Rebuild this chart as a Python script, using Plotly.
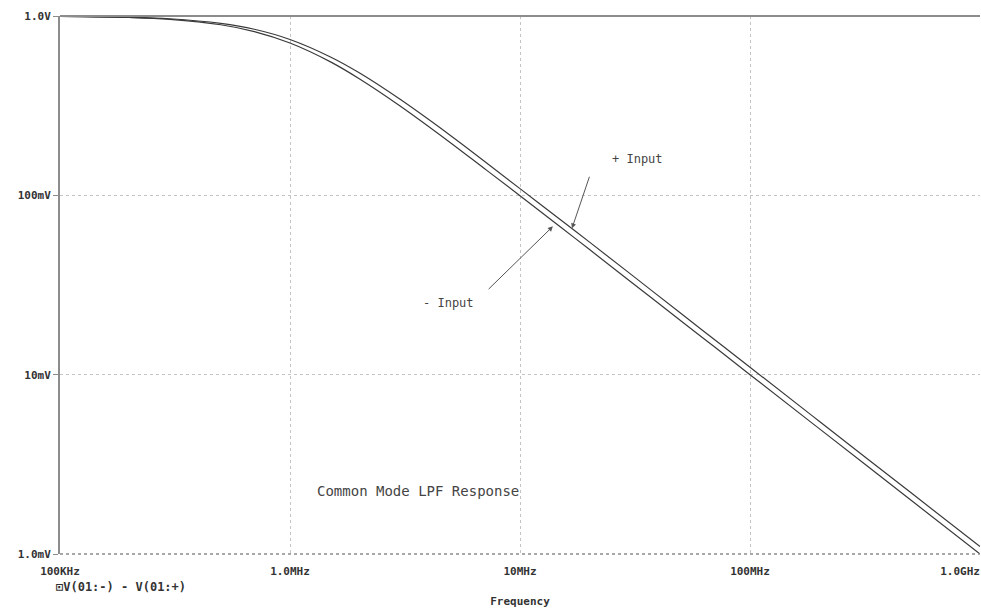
import plotly.graph_objects as go

# Frequencies (Hz) and magnitudes (V)
freq = [1e5, 2e5, 3e5, 5e5, 7e5, 1e6, 1.5e6, 2e6, 3e6, 5e6, 7e6, 1e7, 1.5e7, 2e7,
        3e7, 5e7, 7e7, 1e8, 2e8, 5e8, 1e9]
plus_input = [0.996, 0.984, 0.965, 0.910, 0.844, 0.740, 0.591, 0.482, 0.344, 0.215,
              0.155, 0.109, 0.073, 0.055, 0.0367, 0.022, 0.0157, 0.011, 0.0055,
              0.0022, 0.0011]
minus_input = [0.995, 0.981, 0.958, 0.894, 0.819, 0.707, 0.555, 0.447, 0.316, 0.196,
               0.141, 0.0995, 0.0666, 0.050, 0.0333, 0.020, 0.0143, 0.0100, 0.0050,
               0.0020, 0.0010]

x_ticks = [1e5, 1e6, 1e7, 1e8]
x_labels = ["100KHz", "1.0MHz", "10MHz", "100MHz"]
x_end_tick = [1e9]
x_end_label = ["1.0GHz"]
y_ticks = [1e-3, 1e-2, 1e-1, 1e0]
y_labels = ["1.0mV", "10mV", "100mV", "1.0V"]

MONO = "DejaVu Sans Mono"
TICKFONT = dict(family=MONO, size=11, color="#333333", weight="bold")
fig = go.Figure()
fig.add_trace(go.Scatter(x=freq, y=plus_input, mode="lines", name="+ Input",
                         line=dict(color="#3a3a3a", width=1.2), line_shape="spline"))
fig.add_trace(go.Scatter(x=freq, y=minus_input, mode="lines", name="- Input",
                         line=dict(color="#3a3a3a", width=1.2), line_shape="spline",
                         xaxis="x2"))

fig.update_layout(
    width=981, height=608,
    margin=dict(l=60, r=1, t=16, b=54, autoexpand=False),
    paper_bgcolor="white", plot_bgcolor="white",
    showlegend=False,
    xaxis=dict(type="log", range=[5, 9], tickvals=x_ticks, ticktext=x_labels,
               automargin=False,
               showgrid=True, gridcolor="#c4c4c4", griddash="dot", gridwidth=1,
               showline=False, zeroline=False, ticks="", ticklabelstandoff=9,
               tickfont=TICKFONT,
               title=dict(text="Frequency", standoff=22,
                          font=dict(family=MONO, size=11, color="#333333", weight="bold"))),
    xaxis2=dict(type="log", range=[5, 9], overlaying="x", side="bottom",
                matches="x", tickvals=x_end_tick, ticktext=x_end_label,
                automargin=False, showgrid=False, showline=False, zeroline=False,
                ticks="", ticklabelstandoff=9, ticklabelposition="outside left",
                tickfont=TICKFONT),
    yaxis=dict(type="log", range=[-3, 0], tickvals=y_ticks, ticktext=y_labels,
               automargin=False,
               showgrid=True, gridcolor="#c4c4c4", griddash="dot", gridwidth=1,
               showline=True, linecolor="#8c8c8c", linewidth=2, zeroline=False,
               ticks="outside", ticklen=5, tickcolor="#8c8c8c",
               tickfont=TICKFONT),
    shapes=[
        dict(type="line", xref="paper", yref="paper", x0=0, x1=1, y0=1, y1=1,
             line=dict(color="#8c8c8c", width=2)),
        dict(type="line", xref="paper", yref="paper", x0=0, x1=1, y0=0, y1=0,
             line=dict(color="#8c8c8c", width=1.5, dash="dot")),
    ],
)

fig.add_annotation(x=7.226, y=-1.184, ax=7.304, ay=-0.888, axref="x", ayref="y",
                   text="", showarrow=True, arrowhead=2, arrowsize=1, arrowwidth=1,
                   arrowcolor="#555555")
fig.add_annotation(x=7.143, y=-1.173, ax=6.857, ay=-1.531, axref="x", ayref="y",
                   text="", showarrow=True, arrowhead=2, arrowsize=1, arrowwidth=1,
                   arrowcolor="#555555")
fig.add_annotation(x=7.513, y=-0.799, text="+ Input", showarrow=False,
                   font=dict(family=MONO, size=12, color="#444444"))
fig.add_annotation(x=6.691, y=-1.598, text="- Input", showarrow=False,
                   font=dict(family=MONO, size=12, color="#444444"))
fig.add_annotation(x=6.557, y=-2.648, text="Common Mode LPF Response", showarrow=False,
                   font=dict(family=MONO, size=14, color="#444444"))
fig.add_annotation(xref="paper", yref="paper", x=-0.006, y=-0.061, xanchor="left",
                   yanchor="middle", text="\u22a1V(01:-) - V(01:+)", showarrow=False,
                   font=dict(family=MONO, size=12, color="#333333", weight="bold"))

post = ("var gd=document.getElementById('{plot_id}');"
        "document.documentElement.style.margin='0';"
        "document.body.style.margin='0';document.body.style.padding='0';"
        "document.documentElement.style.overflow='hidden';"
        "document.body.style.overflow='hidden';"
        "return Plotly.relayout(gd,{width:981,height:608});")
fig.write_html("out.html", post_script=post, config={"displayModeBar": False})
